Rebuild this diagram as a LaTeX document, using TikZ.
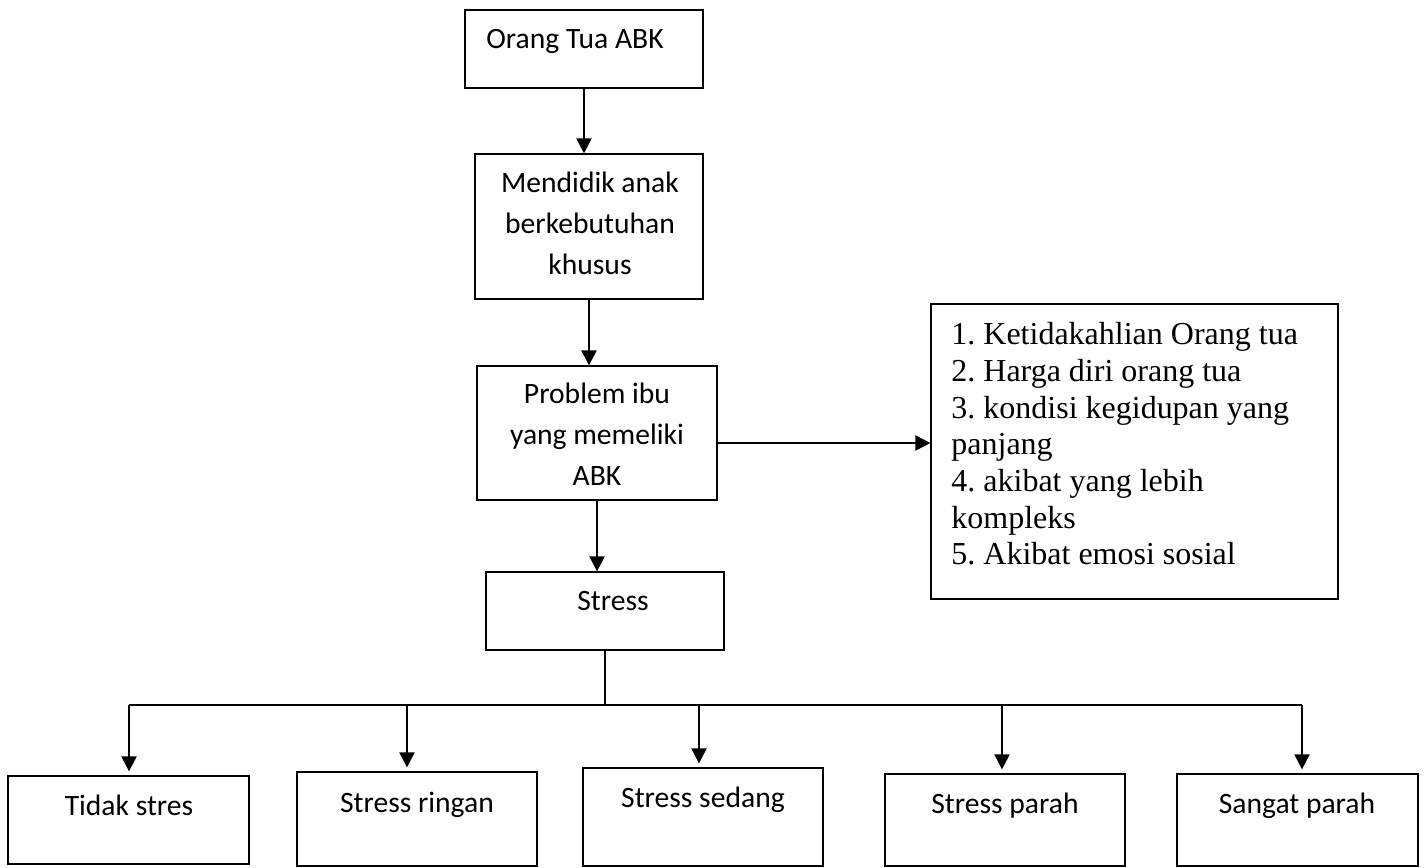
\documentclass[tikz,border=0pt]{standalone}
\usepackage{fontspec}
\setmainfont{Carlito}
\newfontfamily\tnrfont{Liberation Serif}
\usetikzlibrary{arrows.meta}
\frenchspacing
\tikzset{
  box/.style={draw, line width=0.65pt, inner sep=0pt},
  lbl/.style={inner sep=0pt, font=\fontsize{14.8pt}{20.5pt}\selectfont, align=center},
  lst/.style={inner sep=0pt, font=\tnrfont\fontsize{16pt}{18.35pt}\selectfont, align=left},
  arr/.style={line width=1.1pt, -{Triangle[length=7.5pt,width=7.5pt]}},
  conn/.style={line width=1.1pt},
}
\begin{document}
\begin{tikzpicture}[x=0.5pt,y=-0.5pt]
\fill[white] (0,0) rectangle (1426,868);
\useasboundingbox (0,0) rectangle (1426,868);

% boxes
\node[box, minimum width=119pt, minimum height=39pt] (b1) at (584,49) {};
\node[box, minimum width=114pt, minimum height=72.5pt] (b2) at (589,226.5) {};
\node[box, minimum width=120pt, minimum height=67pt] (b3) at (597,433) {};
\node[box, minimum width=119pt, minimum height=39pt] (b4) at (605,611) {};
\node[box, minimum width=203.5pt, minimum height=147.5pt] (r) at (1134.5,451.5) {};
\node[box, minimum width=120.5pt, minimum height=44pt] (c1) at (128.5,820) {};
\node[box, minimum width=120pt, minimum height=47pt] (c2) at (417,819) {};
\node[box, minimum width=120pt, minimum height=49pt] (c3) at (703,817) {};
\node[box, minimum width=120pt, minimum height=46pt] (c4) at (1005,820) {};
\node[box, minimum width=120.5pt, minimum height=46pt] (c5) at (1297.5,820) {};

% texts
\node[lbl, anchor=base west] (t1) at (486,48) {Orang Tua ABK};
\node[lbl, anchor=north] (t2) at (590,172) {Mendidik anak\\berkebutuhan\\khusus};
\node[lbl, anchor=north] (t3) at (597,383) {Problem ibu\\yang memeliki\\ABK};
\node[lbl, anchor=base] (t4) at (613,610) {Stress};
\node[lst, anchor=north west] (tr) at (951,322) {1. Ketidakahlian Orang tua\\2. Harga diri orang tua\\3. kondisi kegidupan yang\\panjang\\4. akibat yang lebih\\kompleks\\5. Akibat emosi sosial};
\node[lbl, anchor=base] (u1) at (129,815) {Tidak stres};
\node[lbl, anchor=base] (u2) at (417,812) {Stress ringan};
\node[lbl, anchor=base] (u3) at (703,807) {Stress sedang};
\node[lbl, anchor=base] (u4) at (1005,813) {Stress parah};
\node[lbl, anchor=base] (u5) at (1297,813) {Sangat parah};

% connectors
\draw[arr] (b1.south) -- (b1.south |- b2.north);
\draw[arr] (b2.south) -- (b2.south |- b3.north);
\draw[arr] (b3.south) -- (b3.south |- b4.north);
\coordinate (p3) at ([yshift=-5pt]b3.east);
\draw[arr] (p3) -- (p3 -| r.west);

\coordinate (j) at (603,705);
\draw[conn] (b4.south) -- (b4.south |- j);
\coordinate (a1) at (129,705);
\coordinate (a2) at (407,705);
\coordinate (a3) at (699,705);
\coordinate (a4) at (1002,705);
\coordinate (a5) at (1302,705);
\draw[conn] (a1) -- (a5);
\draw[arr, shorten >=2pt] (a1) -- (a1 |- c1.north);
\draw[arr, shorten >=2pt] (a2) -- (a2 |- c2.north);
\draw[arr, shorten >=2pt] (a3) -- (a3 |- c3.north);
\draw[arr, shorten >=2pt] (a4) -- (a4 |- c4.north);
\draw[arr, shorten >=2pt] (a5) -- (a5 |- c5.north);
\end{tikzpicture}
\end{document}
